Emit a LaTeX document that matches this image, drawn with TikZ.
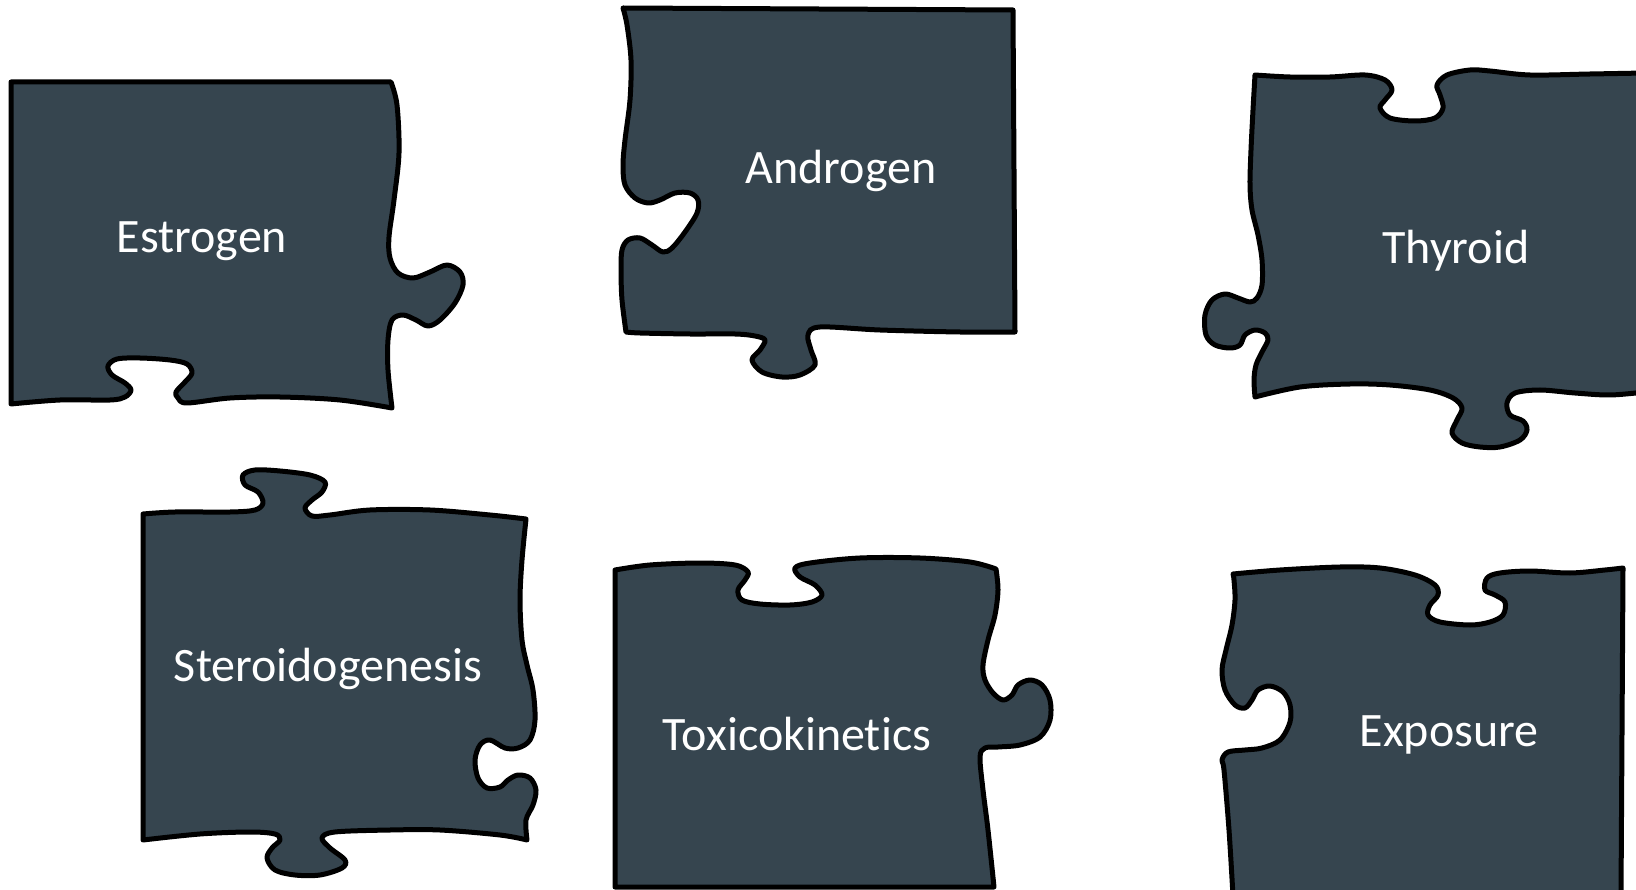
\documentclass[tikz,border=0pt]{standalone}
\usepackage{fontspec}
\setmainfont{Carlito}[Ligatures={NoCommon}]
\definecolor{slate}{RGB}{54,69,79}
\begin{document}
\begin{tikzpicture}[x=1pt,y=-1pt,
  piece/.style={fill=slate,draw=black,line width=5pt,line join=round},
  lbl/.style={text=white,font=\fontsize{48}{56}\selectfont,inner sep=0pt},
  smoothe/.style={smooth,tension=0.55}]
\useasboundingbox (0,0) rectangle (1636,890);
\clip (0,0) rectangle (1636,890);
% Estrogen
\draw[piece] (11,82) -- (391,82) -- plot[smoothe] coordinates {(391,82) (397,105) (399,153) (394,200) (389,237) (390,258) (398,273) (413,278) (430,272) (447,265) (460,272) (463,285) (455,303) (440,320) (428,326) (416,320) (403,315) (392,320) (388,340) (388,370) (392,408)}
 -- plot[smoothe] coordinates {(392,408) (340,400) (280,397) (230,398) (187,403) (178,398) (176,392) (185,382) (192,373) (187,364) (170,360) (140,358) (117,359) (108,366) (112,375) (125,383) (131,390) (125,397) (110,400) (60,400) (11,404)} -- cycle;
% Androgen
\draw[piece] (623,8) -- (1013,10) -- (1015,332) -- plot[smoothe] coordinates {(1015,332) (960,332) (880,330) (820,327) (808,335) (811,350) (815,365) (800,375) (782,377) (762,372) (752,360) (760,350) (765,340) (755,336) (735,334) (690,334) (640,333) (626,332)}
 -- plot[smoothe] coordinates {(626,332) (622,300) (621,270) (622,250) (628,240) (640,238) (652,245) (663,252) (672,248) (685,232) (697,213) (698,200) (690,193) (675,193) (660,200) (648,203) (635,198) (625,185) (623,165) (625,140) (630,100) (631,60) (627,25) (623,8)} -- cycle;
% Thyroid
\draw[piece] (1255,75) -- plot[smoothe] coordinates {(1255,75) (1290,77) (1330,77) (1365,75) (1385,80) (1392,90) (1385,100) (1380,108) (1390,118) (1415,121) (1435,118) (1443,108) (1440,95) (1437,85) (1447,75) (1470,70) (1490,71) (1530,75) (1590,74) (1645,73)} -- (1645,392)
 -- plot[smoothe] coordinates {(1645,392) (1610,395) (1575,393) (1540,390) (1515,393) (1507,403) (1510,415) (1523,421) (1527,430) (1520,440) (1500,447) (1480,447) (1462,443) (1452,433) (1457,420) (1462,408) (1453,398) (1430,390) (1390,385) (1350,384) (1300,387) (1255,397)}
 -- plot[smoothe] coordinates {(1255,397) (1254,380) (1256,365) (1262,352) (1268,340) (1265,333) (1255,330) (1245,335) (1240,345) (1230,348) (1215,345) (1206,335) (1205,315) (1212,300) (1225,294) (1238,298) (1250,302) (1257,298) (1262,285) (1262,260) (1258,235) (1252,210) (1250,185) (1251,150) (1253,110) (1255,75)} -- cycle;
% Steroidogenesis
\draw[piece] (143,514) -- plot[smoothe] coordinates {(143,514) (175,512) (230,512) (255,510) (263,503) (258,492) (245,485) (243,475) (255,470) (280,471) (310,475) (325,482) (322,492) (312,500) (305,508) (312,516) (330,515) (370,510) (430,510) (490,515) (526,519)}
 -- plot[smoothe] coordinates {(526,519) (522,560) (520,600) (522,640) (527,665) (533,690) (535,720) (530,740) (518,748) (505,748) (490,740) (480,745) (475,760) (478,778) (487,788) (500,787) (508,780) (518,775) (530,778) (536,790) (533,805) (526,820) (527,840)}
 -- plot[smoothe] coordinates {(527,840) (500,835) (440,830) (390,830) (335,832) (322,838) (330,848) (345,860) (342,868) (320,875) (295,875) (275,870) (267,858) (272,848) (280,840) (275,834) (250,832) (200,834) (143,840)} -- cycle;
% Toxicokinetics
\draw[piece] (615,887) -- (615,570) -- plot[smoothe] coordinates {(615,570) (650,565) (700,563) (735,565) (748,572) (745,580) (738,590) (742,600) (760,604) (790,605) (812,602) (822,595) (815,585) (800,577) (795,568) (810,563) (860,558) (920,558) (970,562) (996,569)}
 -- plot[smoothe] coordinates {(996,569) (998,590) (995,615) (988,640) (983,665) (985,680) (993,693) (1003,700) (1012,695) (1018,685) (1030,680) (1042,685) (1050,700) (1050,720) (1040,737) (1020,745) (998,747) (985,748) (980,757) (983,790) (988,830) (994,887)} -- cycle;
% Exposure
\draw[piece] (1233,896) -- plot[smoothe] coordinates {(1233,896) (1229,830) (1224,770) (1222,760) (1228,752) (1245,750) (1262,748) (1280,740) (1290,722) (1290,705) (1283,692) (1270,686) (1258,690) (1252,700) (1245,708) (1235,705) (1225,690) (1222,670) (1226,650) (1232,625) (1235,600) (1234,580) (1233,574)}
 -- plot[smoothe] coordinates {(1233,574) (1280,570) (1340,567) (1380,568) (1415,575) (1435,585) (1438,595) (1430,605) (1428,615) (1440,622) (1470,625) (1490,622) (1503,615) (1505,602) (1495,595) (1485,590) (1487,578) (1500,573) (1530,571) (1570,573) (1605,570) (1623,568)} -- (1621,896) -- cycle;
% Labels
\node[lbl] (estrogen) at (202,241) {Estrogen};
\node[lbl] (androgen) at (841,171) {Androgen};
\node[lbl] (thyroid) at (1456,251) {Thyroid};
\node[lbl] (steroid) at (328,669) {Steroidogenesis};
\node[lbl] (toxico) at (797,734) {Toxicokinetics};
\node[lbl] (exposure) at (1449,735) {Exposure};
\end{tikzpicture}
\end{document}
